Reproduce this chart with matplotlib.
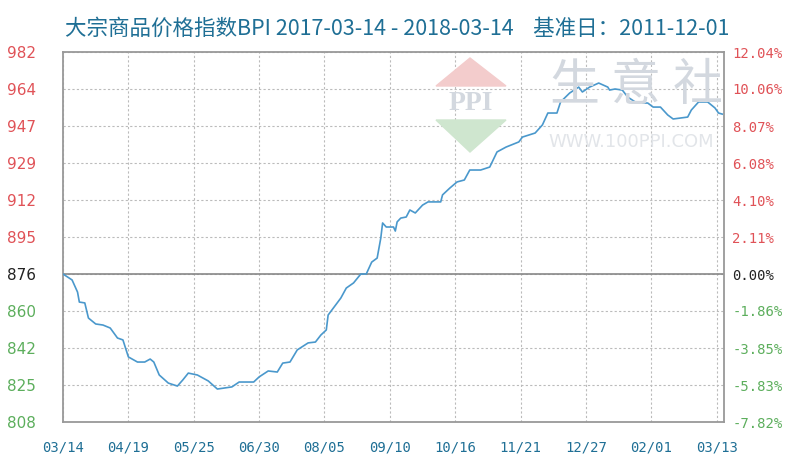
import matplotlib
matplotlib.use("Agg")
import matplotlib.pyplot as plt
from matplotlib.patches import Polygon

plt.rcParams['font.family'] = ['Noto Sans CJK SC', 'DejaVu Sans']

# 数据：从2017-03-14起的天数，BPI指数
days = [0, 5, 8, 9, 12, 14, 18, 22, 26, 30,
        33, 36, 41, 45, 48, 50, 53, 58, 63, 66,
        69, 74, 80, 85, 93, 97, 105, 108, 113, 118,
        121, 125, 129, 135, 139, 142, 145, 146, 153, 156,
        160, 164, 167, 170, 173, 175, 176, 178, 182, 183,
        184, 186, 189, 191, 194, 198, 201, 208, 209, 213,
        217, 221, 224, 230, 235, 239, 244, 251, 253, 260,
        264, 267, 272, 274, 279, 284, 286, 290, 295, 300,
        301, 304, 308, 311, 316, 322, 325, 329, 333, 336,
        344, 346, 350, 355, 359, 361, 363]
bpi = [877.6, 874.8, 869.1, 864.4, 864.0, 856.9, 854.1, 853.6, 852.2, 847.5,
       846.6, 838.6, 836.2, 836.2, 837.6, 836.2, 830.1, 826.3, 824.9, 827.8,
       831.0, 830.1, 827.3, 823.5, 824.5, 826.8, 826.8, 829.2, 832.0, 831.5,
       835.7, 836.2, 841.9, 845.2, 845.6, 848.9, 851.3, 858.3, 866.3, 871.0,
       873.4, 877.6, 877.6, 883.2, 885.1, 894.5, 901.6, 899.7, 899.7, 897.8,
       902.1, 903.9, 904.4, 907.7, 906.3, 910.0, 911.5, 911.5, 914.8, 918.0,
       920.9, 921.8, 926.5, 926.5, 927.9, 935.0, 937.3, 939.7, 942.0, 943.9,
       947.7, 953.3, 953.3, 958.5, 962.7, 965.5, 963.2, 965.5, 967.4, 965.5,
       964.1, 964.6, 964.1, 960.8, 958.0, 958.0, 956.1, 956.1, 952.4, 950.5,
       951.4, 954.7, 958.5, 958.5, 955.7, 953.3, 952.8]

x_ticks = [0, 36, 72, 108, 144, 180, 216, 252, 288, 324, 360]
x_labels = ["03/14", "04/19", "05/25", "06/30", "08/05", "09/10",
            "10/16", "11/21", "12/27", "02/01", "03/13"]
y_ticks = [808, 825.4, 842.8, 860.2, 877.6, 895, 912.4, 929.8, 947.2, 964.6, 982]
y_labels = ["808", "825", "842", "860", "876", "895", "912", "929", "947", "964", "982"]
pct_labels = ["-7.82%", "-5.83%", "-3.85%", "-1.86%", "0.00%", "2.11%",
              "4.10%", "6.08%", "8.07%", "10.06%", "12.04%"]
base_idx = 4

RED = "#e05257"
GREEN = "#5cae5c"
BLUE = "#1f6f95"
LINE = "#4a98cc"

fig = plt.figure(figsize=(8, 4.7), dpi=100)
ax = fig.add_axes([63 / 800, 48 / 470, 661 / 800, 370 / 470])

# 水印
for ch, xp in zip("生意社", [574, 636, 698]):
    fig.text(xp / 800, 1 - 86 / 470, ch, fontsize=36, color="#d3d8df",
             va="center", ha="center", zorder=0)
fig.text(548 / 800, 1 - 142 / 470, "WWW.100PPI.COM", fontsize=13, color="#e2e5e9",
         va="center", ha="left", family="DejaVu Sans", zorder=0)
tri_up = Polygon([(470 / 800, 1 - 58 / 470), (436 / 800, 1 - 86 / 470), (506 / 800, 1 - 86 / 470)],
                 closed=True, transform=fig.transFigure, color="#f3cccc", zorder=0)
tri_dn = Polygon([(436 / 800, 1 - 120 / 470), (506 / 800, 1 - 120 / 470), (470 / 800, 1 - 152 / 470)],
                 closed=True, transform=fig.transFigure, color="#cfe6cf", zorder=0)
fig.patches.extend([tri_up, tri_dn])
fig.text(471 / 800, 1 - 103 / 470, "PPI", fontsize=20, color="#d3d8df", family="Liberation Serif",
         fontweight="bold", va="center", ha="center", zorder=0)

ax.set_facecolor("none")
ax.plot(days, bpi, color=LINE, linewidth=1.2, zorder=3)
ax.axhline(y_ticks[base_idx], color="#888888", linewidth=1.2, zorder=2)

ax.set_xlim(0, 364)
ax.set_ylim(808, 982)
ax.set_xticks(x_ticks)
ax.set_xticklabels(x_labels, family="DejaVu Sans Mono", fontsize=10, color=BLUE)
ax.set_yticks(y_ticks)
ax.set_yticklabels(y_labels, family="DejaVu Sans", fontsize=11, ha="left")
ax.tick_params(axis="x", length=0, pad=13)
ax.tick_params(axis="y", length=0, pad=40)
ax.grid(True, color="#bbbbbb", linestyle=(0, (2, 2)), linewidth=0.8)
for s in ax.spines.values():
    s.set_color("#999999")
    s.set_linewidth(1.3)

ax2 = ax.twinx()
ax2.set_ylim(808, 982)
ax2.set_yticks(y_ticks)
ax2.set_yticklabels(pct_labels, family="DejaVu Sans Mono", fontsize=10)
ax2.tick_params(axis="y", length=0, pad=6)
for s in ax2.spines.values():
    s.set_visible(False)

for axis in (ax, ax2):
    for i, t in enumerate(axis.get_yticklabels()):
        if i < base_idx:
            t.set_color(GREEN)
        elif i > base_idx:
            t.set_color(RED)
        else:
            t.set_color("#222222")

fig.text(65 / 800, 1 - 29 / 470,
         "大宗商品价格指数BPI 2017-03-14 - 2018-03-14    基准日：2011-12-01",
         fontsize=15.5, color=BLUE, va="center", ha="left")

fig.savefig("out.png", dpi=100)
